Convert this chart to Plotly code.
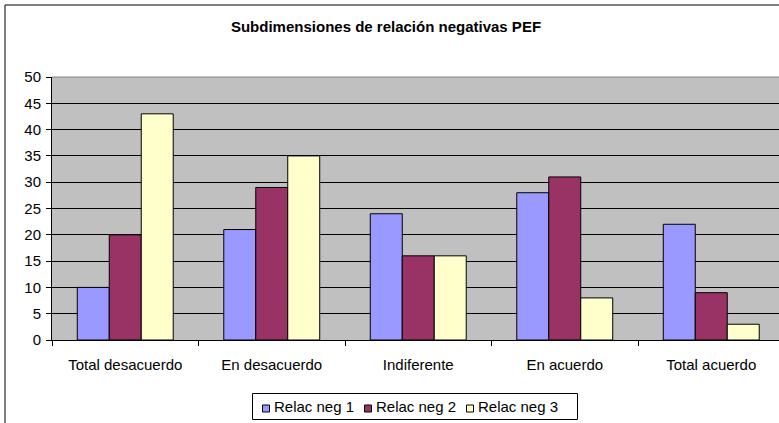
import plotly.graph_objects as go

categorias = ['Total desacuerdo', 'En desacuerdo', 'Indiferente', 'En acuerdo', 'Total acuerdo']
relac_neg_1 = [10, 21, 24, 28, 22]
relac_neg_2 = [20, 29, 16, 31, 9]
relac_neg_3 = [43, 35, 16, 8, 3]
series = ['Relac neg 1', 'Relac neg 2', 'Relac neg 3']
colores = ['#9999FF', '#993366', '#FFFFCC']

W, H = 779, 423
L, T, B = 52, 77, 83
plot_w = W - L
plot_h = H - T - B
cat_w = 146.5


def px_x(px):
    return (px - L) / plot_w


def px_y(py):
    return (T + plot_h - py) / plot_h


fig = go.Figure()
for nombre, vals, col in zip(series, [relac_neg_1, relac_neg_2, relac_neg_3], colores):
    fig.add_trace(go.Bar(x=categorias, y=vals, name=nombre, showlegend=False,
                         marker=dict(color=col, line=dict(color='black', width=1))))

font = 'Liberation Sans, Arial, sans-serif'

# chart frame (only left/top visible in the crop)
fig.add_shape(type='rect', xref='paper', yref='paper',
              x0=px_x(5), x1=1.2, y0=-0.6, y1=px_y(5),
              line=dict(color='black', width=1), layer='above')
# plot area border
fig.add_shape(type='line', xref='paper', yref='paper', x0=0, x1=1, y0=1, y1=1,
              line=dict(color='#808080', width=1), layer='above')

# legend box drawn by hand (Excel style, compact)
fig.add_shape(type='rect', xref='paper', yref='paper',
              x0=px_x(252.5), x1=px_x(577.5), y0=px_y(419.5), y1=px_y(393.5),
              line=dict(color='black', width=1), fillcolor='white', layer='above')
for i, (nombre, col) in enumerate(zip(series, colores)):
    sx = 262.5 + i * 102
    fig.add_shape(type='rect', xref='paper', yref='paper',
                  x0=px_x(sx), x1=px_x(sx + 7), y0=px_y(412), y1=px_y(405),
                  line=dict(color='black', width=1), fillcolor=col, layer='above')
    fig.add_annotation(text=nombre, xref='paper', yref='paper', x=px_x(sx + 9), y=px_y(406.5),
                       xanchor='left', yanchor='middle', showarrow=False,
                       font=dict(family=font, size=15, color='black'))

fig.update_layout(
    width=W, height=H,
    margin=dict(l=L, r=0, t=T, b=B, autoexpand=False),
    paper_bgcolor='white', plot_bgcolor='#C0C0C0',
    barmode='group', bargap=0.345, bargroupgap=0,
    font=dict(family=font, size=15, color='black'),
    title=dict(text='<b>Subdimensiones de relación negativas PEF</b>',
               x=386 / W, xanchor='center', y=1 - 27 / H, yanchor='middle',
               font=dict(family=font, size=15, color='black')),
    xaxis=dict(range=[-0.5, -0.5 + plot_w / cat_w], showgrid=False,
               showline=True, linecolor='black', linewidth=1,
               ticks='outside', tickson='boundaries', ticklen=5, tickcolor='black',
               tickfont=dict(size=15), ticklabelstandoff=11, automargin=False),
    yaxis=dict(range=[0, 50], dtick=5, showgrid=True, gridcolor='black', gridwidth=1,
               showline=True, linecolor='black', linewidth=1,
               ticks='outside', ticklen=5, tickcolor='black', zeroline=False,
               tickfont=dict(size=15), ticklabelstandoff=2, automargin=False),
    showlegend=False,
)

fig.write_html('out.html', post_script="document.body.style.margin='0';",
               config={'displayModeBar': False})
